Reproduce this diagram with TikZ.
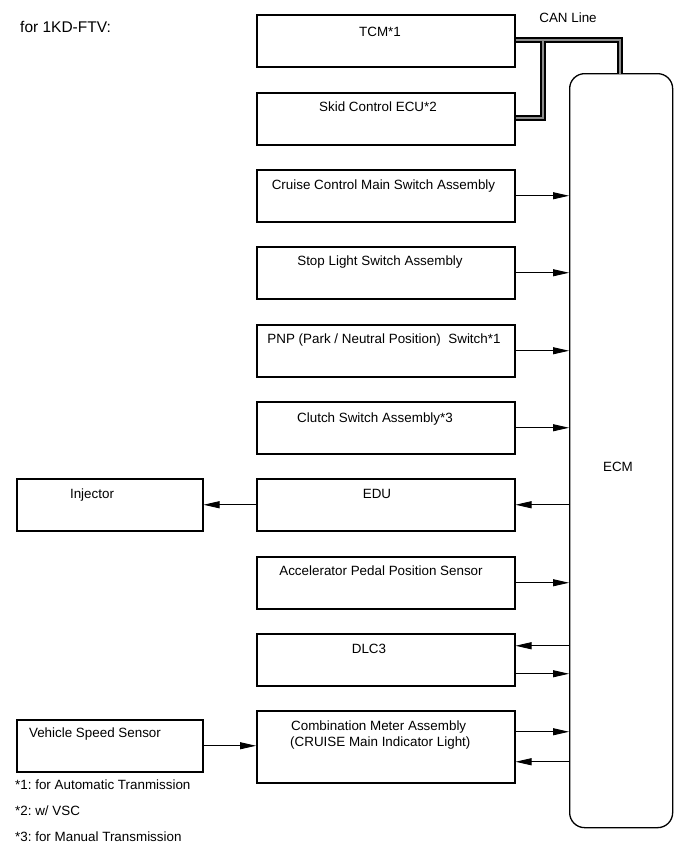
\documentclass[tikz,border=0pt]{standalone}
\usepackage{fontspec}
\setmainfont{Liberation Sans}
\usetikzlibrary{arrows.meta}
\frenchspacing
\begin{document}
\begin{tikzpicture}[x=1pt,y=-1pt,
  box/.style={draw, line width=1.5pt, inner sep=0pt, minimum width=258pt, minimum height=52pt, anchor=north west},
  sbox/.style={box, minimum width=186pt},
  lbl/.style={anchor=base, inner sep=0pt, font=\fontsize{13.4}{16}\selectfont},
  arr/.style={line width=0.9pt, -{Triangle[length=16pt,width=7pt]}},
  canout/.style={line width=6.5pt, black},
  canin/.style={line width=2.5pt, black!45},
]
\useasboundingbox (0,0) rectangle (690,868);
% title
\node[lbl, anchor=base west, font=\fontsize{15.5}{18}\selectfont] (title) at (20,32) {for 1KD-FTV:};
% ECM
\node[draw, line width=1.3pt, rounded corners=15pt, minimum width=103pt, minimum height=754pt, anchor=north west, inner sep=0pt] (ecm) at (569,73) {};
\node[lbl] (ecmT) at (618,471) {ECM};
% boxes
\node[box] (tcm) at (256,14) {};
\node[box] (skid) at (256,92) {};
\node[box] (cruise) at (256,169) {};
\node[box] (stop) at (256,246) {};
\node[box] (pnp) at (256,324) {};
\node[box] (clutch) at (256,401) {};
\node[box] (edu) at (256,478) {};
\node[box] (accel) at (256,556) {};
\node[box] (dlc) at (256,633) {};
\node[box, minimum height=72pt] (comb) at (256,710) {};
\node[sbox] (inj) at (16,478) {};
\node[sbox] (vss) at (16,719) {};
% labels
\node[lbl] (tcmT) at (380,36) {TCM*1};
\node[lbl] (skidT) at (378,111) {Skid Control ECU*2};
\node[lbl] (cruiseT) at (383.5,189) {Cruise Control Main Switch Assembly};
\node[lbl] (stopT) at (380,265) {Stop Light Switch Assembly};
\node[lbl] (pnpT) at (384,343) {PNP (Park / Neutral Position)\ \ Switch*1};
\node[lbl] (clutchT) at (375,422) {Clutch Switch Assembly*3};
\node[lbl] (eduT) at (377,498) {EDU};
\node[lbl] (accelT) at (381,575) {Accelerator Pedal Position Sensor};
\node[lbl] (dlcT) at (369,653) {DLC3};
\node[lbl, anchor=base west] (combT1) at (291,730) {Combination Meter Assembly};
\node[lbl, anchor=base west] (combT2) at (290,746) {(CRUISE Main Indicator Light)};
\node[lbl] (injT) at (92,498) {Injector};
\node[lbl] (vssT) at (95,737) {Vehicle Speed Sensor};
\node[lbl] (canT) at (568,22) {CAN Line};
% footnotes
\node[lbl, anchor=base west] (fn1) at (15,789) {*1: for Automatic Tranmission};
\node[lbl, anchor=base west] (fn2) at (15,815) {*2: w/ VSC};
\node[lbl, anchor=base west] (fn3) at (15,841) {*3: for Manual Transmission};
% CAN line
\coordinate (c1) at (620,40);
\coordinate (c2) at (543,40);
\coordinate (c3) at (543,118);
\draw[canout, line join=miter] (tcm.east |- c1) -- (c1) -- (c1 |- ecm.north);
\draw[canout, line join=miter] (c2) -- (c3) -- (skid.east |- c3);
\draw[canin, line join=miter] (tcm.east |- c1) -- (c1) -- ([yshift=-1pt]c1 |- ecm.north);
\draw[canin, line join=miter] (c2) -- (c3) -- (skid.east |- c3);
% arrows
\draw[arr] (cruise.east) -- (cruise.east -| ecm.west);
\draw[arr] (stop.east) -- (stop.east -| ecm.west);
\draw[arr] (pnp.east) -- (pnp.east -| ecm.west);
\draw[arr] (clutch.east) -- (clutch.east -| ecm.west);
\draw[arr] (edu.east -| ecm.west) -- (edu.east);
\draw[arr] (edu.west) -- (edu.west -| inj.east);
\draw[arr] (accel.east) -- (accel.east -| ecm.west);
\draw[arr] ([yshift=14pt]dlc.east -| ecm.west) -- ([yshift=14pt]dlc.east);
\draw[arr] ([yshift=-14pt]dlc.east) -- ([yshift=-14pt]dlc.east -| ecm.west);
\draw[arr] ([yshift=15pt]comb.east) -- ([yshift=15pt]comb.east -| ecm.west);
\draw[arr] ([yshift=-15pt]comb.east -| ecm.west) -- ([yshift=-15pt]comb.east);
\draw[arr] (vss.east) -- (vss.east -| comb.west);
\end{tikzpicture}
\end{document}
